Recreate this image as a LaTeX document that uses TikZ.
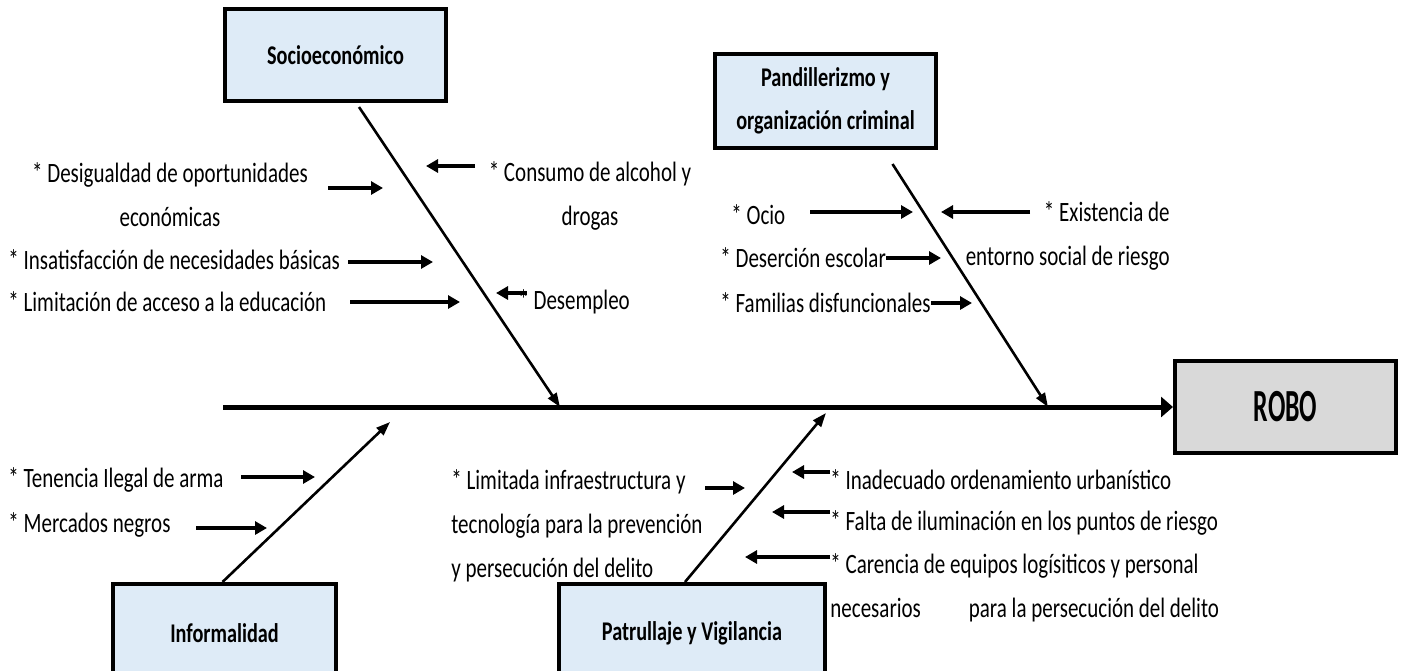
\documentclass[tikz,border=0pt]{standalone}
\usepackage{fontspec}
\setmainfont{Carlito}[FakeStretch=0.75]
\newfontfamily\robofont{Carlito}[FakeStretch=0.56]
\usetikzlibrary{arrows.meta}
\definecolor{fishBlue}{HTML}{DEEBF7}
\definecolor{fishGray}{HTML}{D9D9D9}
\tikzset{
  catbox/.style={draw=black, line width=2pt, fill=fishBlue, align=center,
                 inner sep=2pt, font=\bfseries\fontsize{13.5}{21.5}\selectfont},
  effbox/.style={draw=black, line width=2pt, fill=fishGray, inner sep=2pt,
                 font=\robofont\bfseries\fontsize{23}{24}\selectfont},
  cause/.style={inner sep=0pt, font=\fontsize{14}{22}\selectfont},
  spine/.style={-{Triangle[length=6pt,width=10pt]}, line width=2.5pt},
  bone/.style={-{Triangle[length=7pt,width=5pt]}, line width=1.3pt},
  causearr/.style={-{Triangle[length=6pt,width=6.5pt]}, line width=1.8pt},
}
\begin{document}
\begin{tikzpicture}[x=0.5pt,y=-0.5pt]
    \useasboundingbox (0,0) rectangle (1403,670);
    \node[catbox, minimum width=110.5pt, minimum height=46pt] (socio) at (335.5,55) {Socioeconómico};
    \node[catbox, minimum width=110.5pt, minimum height=47pt] (pandi) at (825.5,101) {Pandillerizmo y\\organización criminal};
    \node[catbox, minimum width=111.5pt, minimum height=49pt] (informal) at (224.5,633) {Informalidad};
    \node[catbox, minimum width=133pt, minimum height=49pt] (patr) at (692,633) {Patrullaje y Vigilancia};
    \node[effbox, minimum width=110.5pt, minimum height=46pt] (robo) at (1285.5,407) {ROBO};

    \coordinate (tail) at (223,407);
    \coordinate (socio-hit) at (560,407);
    \coordinate (pandi-hit) at (1048,407);
    \coordinate (informal-hit) at (390,422);
    \coordinate (patr-hit) at (826,413);
    \draw[spine] (tail) -- (robo.west);
    \draw[bone] ([xshift=11.75pt,yshift=-2pt]socio.south) -- (socio-hit);
    \draw[bone] ([xshift=33.5pt,yshift=-7pt]pandi.south) -- (pandi-hit);
    \draw[bone] ([xshift=-1pt]informal.north) -- (informal-hit);
    \draw[bone] ([xshift=-3.5pt]patr.north) -- (patr-hit);

    \node[cause, align=center] (desig) at (170,195) {* Desigualdad de oportunidades\\económicas};
    \node[cause, anchor=west] (insat) at (8,260) {* Insatisfacción de necesidades básicas};
    \node[cause, anchor=west] (limit) at (8,302) {* Limitación de acceso a la educación};
    \node[cause, align=center] (consumo) at (590,196) {* Consumo de alcohol y\\drogas};
    \node[cause, anchor=west] (desemp) at (518,302) {* Desempleo};
    \node[cause, anchor=west] (ocio) at (731,215) {* Ocio};
    \node[cause, align=right, anchor=east] (exist) at (1170,236) {* Existencia de\\entorno social de riesgo};
    \node[cause, anchor=west] (deser) at (720,258) {* Deserción escolar};
    \node[cause, anchor=west] (famil) at (720,303) {* Familias disfuncionales};
    \node[cause, anchor=west] (tenen) at (8,480) {* Tenencia Ilegal de arma};
    \node[cause, anchor=west] (merc) at (8,525) {* Mercados negros};
    \node[cause, align=left, anchor=west] (limitada) at (451,526) {* Limitada infraestructura y\\tecnología para la prevención\\y persecución del delito};
    \node[cause, anchor=west] (inadec) at (830,480) {* Inadecuado ordenamiento urbanístico};
    \node[cause, anchor=west] (falta) at (830,523) {* Falta de iluminación en los puntos de riesgo};
    \node[cause, align=left, anchor=west] (caren) at (830,588) {* Carencia de equipos logísiticos y personal\\necesarios\hspace{24pt}para la persecución del delito};

    \coordinate (desig-a) at (328,188);   \coordinate (desig-b) at (383,188);
    \coordinate (consumo-a) at (475,166); \coordinate (consumo-b) at (426,166);
    \coordinate (insat-a) at (348,262);   \coordinate (insat-b) at (433,262);
    \coordinate (limit-a) at (350,302);   \coordinate (limit-b) at (460,302);
    \coordinate (desemp-a) at (527,293);  \coordinate (desemp-b) at (496,293);
    \coordinate (ocio-a) at (810,212);    \coordinate (ocio-b) at (913,212);
    \coordinate (exist-a) at (1030,212);  \coordinate (exist-b) at (941,212);
    \coordinate (deser-b) at (941,258);
    \coordinate (famil-b) at (972,303);
    \coordinate (tenen-a) at (241,477);   \coordinate (tenen-b) at (315,477);
    \coordinate (merc-a) at (196,528);    \coordinate (merc-b) at (267,528);
    \coordinate (limitada-a) at (705,488); \coordinate (limitada-b) at (745,488);
    \coordinate (inadec-b) at (792,472);
    \coordinate (falta-b) at (772,512);
    \coordinate (caren-b) at (745,557);

    \draw[causearr] (desig-a) -- (desig-b);
    \draw[causearr] (consumo-a) -- (consumo-b);
    \draw[causearr] (insat-a) -- (insat-b);
    \draw[causearr] (limit-a) -- (limit-b);
    \draw[causearr] (desemp-a) -- (desemp-b);
    \draw[causearr] (ocio-a) -- (ocio-b);
    \draw[causearr] (exist-a) -- (exist-b);
    \draw[causearr] (deser.east) -- (deser-b);
    \draw[causearr] (famil.east) -- (famil-b);
    \draw[causearr] (tenen-a) -- (tenen-b);
    \draw[causearr] (merc-a) -- (merc-b);
    \draw[causearr] (limitada-a) -- (limitada-b);
    \draw[causearr] ([yshift=4pt]inadec.west) -- (inadec-b);
    \draw[causearr] ([yshift=5.5pt]falta.west) -- (falta-b);
    \draw[causearr] ([yshift=15.5pt]caren.west) -- (caren-b);
  \end{tikzpicture}
\end{document}
